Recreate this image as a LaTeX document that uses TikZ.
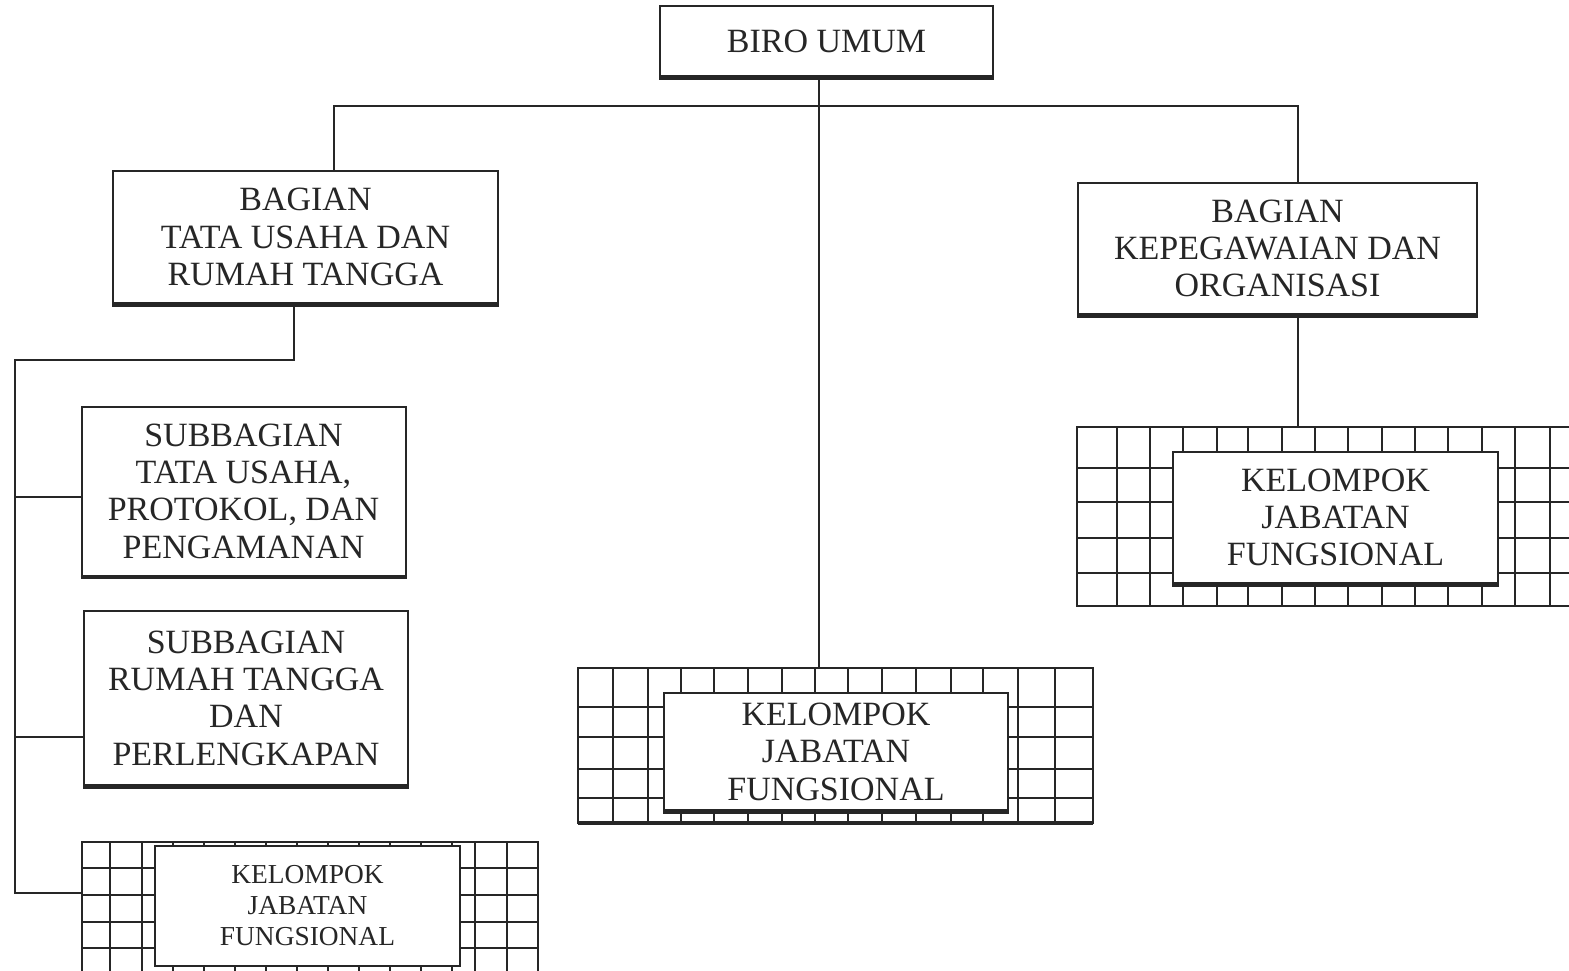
\documentclass[tikz,border=0pt]{standalone}
\usepackage{fontspec}
\setmainfont{Liberation Serif}
\begin{document}
\begin{tikzpicture}[x=0.5pt,y=-0.5pt,
  ln/.style={line width=1pt,black!85},
  box/.style={draw=black!85,line width=1pt,fill=white,inner sep=0pt,align=center,
    text=black!85,font=\fontsize{17}{18.7}\selectfont},
  smallbox/.style={box,font=\fontsize{13.7}{15.5}\selectfont},
  gridbox/.style={draw=black!85,line width=1pt,inner sep=0pt},
  shadowline/.style={line width=1.6pt,black!85}
]
\useasboundingbox (0,0) rectangle (1569,970);
\clip (0,0) rectangle (1569,970);
\fill[white] (0,0) rectangle (1569,970);

% ---- grid backgrounds ----
% center grid
\node[gridbox,minimum width=257.5pt,minimum height=77.5pt] (cgrid) at (835.5,745.5) {};
\foreach \x in {613,648,681,714,748,782,815,848,882,916,951,983,1018,1055}
  \draw[ln] (\x,668) -- (\x,823);
\foreach \y in {707,737,769,798}
  \draw[ln] (578,\y) -- (1093,\y);
\draw[shadowline] (578,823) -- (1093,823);
% right grid
\node[gridbox,minimum width=271.5pt,minimum height=89.5pt] (rgrid) at (1348.5,516.5) {};
\foreach \x in {1117,1150,1183,1217,1248,1282,1315,1348,1382,1415,1448,1482,1515,1550}
  \draw[ln] (\x,427) -- (\x,606);
\foreach \y in {468,502,538,573}
  \draw[ln] (1077,\y) -- (1569,\y);
% left grid
\node[gridbox,minimum width=228pt,minimum height=75pt] (lgrid) at (310,917) {};
\foreach \x in {110,142,173,204,235,266,297,328,359,390,421,452,475,507}
  \draw[ln] (\x,842) -- (\x,992);
\foreach \y in {868,895,922,948}
  \draw[ln] (82,\y) -- (538,\y);

% ---- nodes ----
\node[box,minimum width=166.5pt,minimum height=35pt] (biro) at (826.5,41) {BIRO UMUM};
\node[box,minimum width=192.5pt,minimum height=66pt] (tata) at (305.5,237)
  {BAGIAN\\TATA USAHA DAN\\RUMAH TANGGA};
\node[box,minimum width=199.5pt,minimum height=65.5pt] (kep) at (1277.5,248.5)
  {BAGIAN\\KEPEGAWAIAN DAN\\ORGANISASI};
\node[box,minimum width=162pt,minimum height=84.5pt] (sub1) at (243.5,491)
  {SUBBAGIAN\\TATA USAHA,\\PROTOKOL, DAN\\PENGAMANAN};
\node[box,minimum width=162pt,minimum height=87pt] (sub2) at (246,698)
  {SUBBAGIAN\\RUMAH TANGGA\\DAN\\PERLENGKAPAN};
\node[box,minimum width=172pt,minimum height=58.5pt] (kjfc) at (836,751.5)
  {KELOMPOK\\JABATAN\\FUNGSIONAL};
\node[box,minimum width=162.5pt,minimum height=65.5pt] (kjfr) at (1335.5,517.5)
  {KELOMPOK\\JABATAN\\FUNGSIONAL};
\node[smallbox,minimum width=152.5pt,minimum height=60pt] (kjfl) at (307.5,906)
  {KELOMPOK\\JABATAN\\FUNGSIONAL};

% shadow (thicker bottom edges)
\foreach \n in {biro,tata,kep,sub1,sub2,kjfc,kjfr}
  \draw[shadowline] ([yshift=-0.6pt]\n.south west) -- ([yshift=-0.6pt]\n.south east);

% ---- connectors ----
\coordinate (bt) at (819,106);
\coordinate (bl) at (334,106);
\coordinate (br) at (1298,106);
\coordinate (lt) at (294,360);
\coordinate (lx) at (15,360);
\coordinate (lb) at (15,893);
\coordinate (l1) at (15,497);
\coordinate (l2) at (15,737);

\draw[ln] (biro.south -| bt) -- (cgrid.north -| bt);
\draw[ln] (tata.north -| bl) -- (bl) -- (br) -- (kep.north -| br);
\draw[ln] (kep.south -| br) -- (rgrid.north -| br);
\draw[ln] (tata.south -| lt) -- (lt) -- (lx) -- (lb) -- (lb -| lgrid.west);
\draw[ln] (l1) -- (l1 -| sub1.west);
\draw[ln] (l2) -- (l2 -| sub2.west);
\end{tikzpicture}
\end{document}
